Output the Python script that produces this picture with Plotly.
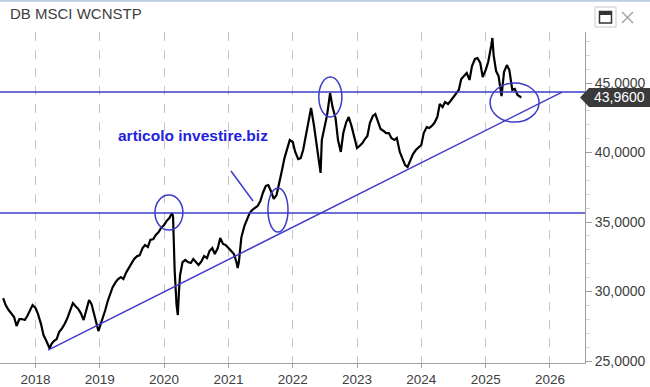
import plotly.graph_objects as go

# ---------------- data ----------------
dates = [
    "2017-07-01","2017-07-15","2017-08-01","2017-08-15","2017-09-01","2017-09-15","2017-10-01","2017-10-15",
    "2017-11-01","2017-11-15","2017-12-01","2017-12-15",
    "2018-01-01","2018-01-15","2018-02-01","2018-02-15","2018-03-01","2018-03-15","2018-03-22","2018-04-01","2018-04-15",
    "2018-05-01","2018-05-15","2018-06-01","2018-06-15","2018-07-01","2018-07-15","2018-08-01","2018-08-15",
    "2018-09-01","2018-09-15","2018-10-01","2018-10-15","2018-11-01","2018-11-15","2018-12-01","2018-12-15","2018-12-24",
    "2019-01-01","2019-01-15","2019-02-01","2019-02-15","2019-03-01","2019-03-15","2019-04-01","2019-04-15",
    "2019-05-01","2019-05-15","2019-06-01","2019-06-15","2019-07-01","2019-07-15","2019-08-01","2019-08-15",
    "2019-09-01","2019-09-15","2019-10-01","2019-10-15","2019-11-01","2019-11-15","2019-12-01","2019-12-15",
    "2020-01-01","2020-01-15","2020-02-01","2020-02-15","2020-02-21","2020-03-01","2020-03-12","2020-03-19","2020-03-26",
    "2020-04-01","2020-04-15","2020-05-01","2020-05-15","2020-06-01","2020-06-15","2020-07-01","2020-07-15",
    "2020-08-01","2020-08-15","2020-09-01","2020-09-15","2020-10-01","2020-10-15","2020-11-01","2020-11-15",
    "2020-12-01","2020-12-15",
    "2021-01-01","2021-01-15","2021-02-01","2021-02-15","2021-02-22","2021-03-01","2021-03-15","2021-04-01","2021-04-15",
    "2021-05-01","2021-05-15","2021-06-01","2021-06-15","2021-07-01","2021-07-15","2021-08-01","2021-08-15",
    "2021-09-01","2021-09-15","2021-10-01","2021-10-15","2021-11-01","2021-11-15","2021-12-01","2021-12-15",
    "2022-01-01","2022-01-15","2022-02-01","2022-02-15","2022-03-01","2022-03-15","2022-04-01","2022-04-15",
    "2022-05-01","2022-05-15","2022-06-01","2022-06-08","2022-06-15","2022-07-01","2022-07-15","2022-08-01","2022-08-15",
    "2022-09-01","2022-09-15","2022-10-01","2022-10-15","2022-11-01","2022-11-15","2022-12-01","2022-12-15",
    "2023-01-01","2023-01-15","2023-02-01","2023-02-15","2023-03-01","2023-03-15","2023-04-01","2023-04-15",
    "2023-05-01","2023-05-15","2023-06-01","2023-06-15","2023-07-01","2023-07-15","2023-08-01","2023-08-15",
    "2023-09-01","2023-09-15","2023-10-01","2023-10-15","2023-11-01","2023-11-15","2023-12-01","2023-12-15",
    "2024-01-01","2024-01-15","2024-02-01","2024-02-15","2024-03-01","2024-03-15","2024-04-01","2024-04-15",
    "2024-05-01","2024-05-15","2024-06-01","2024-06-15","2024-07-01","2024-07-15","2024-08-01","2024-08-15",
    "2024-09-01","2024-09-15","2024-10-01","2024-10-15","2024-11-01","2024-11-15","2024-12-01","2024-12-15",
    "2025-01-01","2025-01-15","2025-02-01","2025-02-08","2025-02-15","2025-03-01","2025-03-15","2025-04-01",
    "2025-04-08","2025-04-15","2025-05-01","2025-05-15","2025-06-01","2025-06-15","2025-07-01","2025-07-15","2025-07-22",
]
values = [
    29.53, 29.03, 28.67, 28.45, 28.17, 27.52, 28.02, 28.02, 27.95, 28.24, 28.67, 29.03,
    28.81, 28.38, 27.66, 26.87, 26.51, 26.10, 25.90, 26.22, 26.44, 26.58, 27.09, 27.37, 27.66, 28.10, 28.60,
    29.17, 28.96, 28.74, 28.45, 27.95, 28.60, 29.39, 29.10, 28.31, 27.52, 27.16,
    27.45, 27.95, 28.67, 29.32, 29.75, 30.32, 30.68, 30.90, 31.04, 30.90, 31.40, 31.69, 32.05, 32.34, 32.55,
    32.60, 33.13, 33.35, 33.20, 33.71, 33.78, 34.07, 34.28, 34.57,
    34.79, 35.07, 35.30, 35.65, 35.40, 31.55, 29.03, 28.31, 30.11, 31.19, 32.12, 32.27, 32.12, 32.05, 32.34,
    32.12, 31.91, 32.19, 32.55, 32.41, 32.91, 33.13, 32.70, 33.13, 33.85, 33.42, 33.35,
    33.13, 32.91, 32.70, 32.12, 31.69, 32.12, 33.90, 34.70, 35.14, 35.65, 35.86, 36.00, 36.15, 36.50, 37.09,
    37.60, 37.66, 37.16, 36.66, 36.94, 37.88, 38.74, 39.60, 40.32, 40.90,
    40.76, 40.04, 39.53, 39.60, 40.18, 41.19, 42.34, 43.20, 41.98, 40.68, 39.10, 38.53, 40.90, 41.90, 42.70,
    44.28, 43.27, 42.48, 40.90, 40.04, 41.40, 42.19, 42.55, 41.90, 41.26,
    40.32, 40.47, 40.68, 40.97, 41.19, 42.12, 42.63, 42.77, 42.12, 41.69, 41.55, 41.40, 41.40, 41.04, 40.90,
    41.04, 40.04, 39.53, 39.10, 38.96, 39.46, 39.89, 40.18, 40.32,
    40.54, 41.40, 41.83, 41.76, 41.91, 42.12, 42.55, 43.49, 43.27, 43.63, 43.49, 43.71, 43.99, 44.21, 44.50,
    45.29, 45.50, 45.72, 45.22, 46.22, 46.73, 46.80, 46.44, 45.43,
    45.94, 46.51, 47.66, 48.24, 47.01, 45.86, 45.50, 44.06, 44.93, 45.79, 46.29, 45.94, 44.50, 44.57, 44.14,
    43.99, 43.96,
]

title_text = "DB MSCI WCNSTP"
year_ticks = ["2018", "2019", "2020", "2021", "2022", "2023", "2024", "2025", "2026"]
y_ticks = [25, 30, 35, 40, 45]

# drawn analysis objects
resistance_level = 44.35
support_level = 35.65
trend_start = ("2018-03-13", 25.79)
trend_end = ("2026-03-11", 44.35)
ellipses = [  # (x0, x1, y0, y1)
    ("2019-11-10", "2020-04-17", 34.42, 36.94),
    ("2021-08-13", "2021-12-05", 34.28, 37.45),
    ("2022-05-29", "2022-10-07", 42.55, 45.43),
    ("2025-01-26", "2025-10-31", 42.19, 45.00),
]
note_text = "articolo investire.biz"

BLUE = "#3c3cc8"
TXT = "#404040"
PW, PH, PB = 585.0, 331.0, 363.0  # plot width/height/bottom in px
Y_RANGE = [24.86, 48.67]


def px(x):
    return x / PW


def py(y):
    return (PB - y) / PH


fig = go.Figure()
fig.add_trace(go.Scatter(x=dates, y=values, mode="lines",
                         line=dict(color="#000000", width=2.2), hoverinfo="skip"))

shapes = []
for lvl in (resistance_level, support_level):
    shapes.append(dict(type="line", xref="paper", yref="y", x0=0, x1=1, y0=lvl, y1=lvl,
                       line=dict(color=BLUE, width=1.5)))
shapes.append(dict(type="line", xref="x", yref="y", x0=trend_start[0], y0=trend_start[1],
                   x1=trend_end[0], y1=trend_end[1], line=dict(color=BLUE, width=1.5)))
for x0, x1, y0, y1 in ellipses:
    shapes.append(dict(type="circle", xref="x", yref="y", x0=x0, x1=x1, y0=y0, y1=y1,
                       line=dict(color=BLUE, width=1.5)))
# pointer line from note
shapes.append(dict(type="line", xref="paper", yref="paper", x0=px(231), y0=py(171),
                   x1=px(253), y1=py(201), line=dict(color=BLUE, width=1.5)))

# last price label (arrow box)
last = values[-1]
half = 9.5 / (PH / (Y_RANGE[1] - Y_RANGE[0]))
shapes.append(dict(type="path", xref="paper", yref="y", layer="above",
                   path=(f"M {px(580)},{last} L {px(589)},{last + half} L {px(650)},{last + half} "
                         f"L {px(650)},{last - half} L {px(589)},{last - half} Z"),
                   fillcolor="#3a3a3a", line=dict(width=0)))

# top window border
shapes.append(dict(type="line", xref="paper", yref="paper", x0=0, x1=px(650), y0=py(0.8), y1=py(0.8),
                   line=dict(color="#b9cde5", width=2)))
# window icons
shapes.append(dict(type="rect", xref="paper", yref="paper", x0=px(595), x1=px(616), y0=py(27), y1=py(7),
                   line=dict(color="#c8c8c8", width=1)))
shapes.append(dict(type="rect", xref="paper", yref="paper", x0=px(599.5), x1=px(611.5), y0=py(23), y1=py(11.5),
                   line=dict(color="#333333", width=1.5)))
shapes.append(dict(type="rect", xref="paper", yref="paper", x0=px(599.5), x1=px(611.5), y0=py(14.5), y1=py(11.5),
                   fillcolor="#333333", line=dict(color="#333333", width=1)))
shapes.append(dict(type="line", xref="paper", yref="paper", x0=px(622), x1=px(633), y0=py(12), y1=py(23),
                   line=dict(color="#a8a8a8", width=1.6)))
shapes.append(dict(type="line", xref="paper", yref="paper", x0=px(622), x1=px(633), y0=py(23), y1=py(12),
                   line=dict(color="#a8a8a8", width=1.6)))

annotations = [
    dict(xref="paper", yref="paper", x=px(8), y=py(13.5), xanchor="left", yanchor="middle",
         text=title_text, showarrow=False, font=dict(family="Arial", size=15, color=TXT)),
    dict(xref="paper", yref="paper", x=px(116), y=py(135), xanchor="left", yanchor="middle",
         text=note_text, showarrow=False,
         font=dict(family="Arial", size=15.5, color="#2222dd", weight="bold")),
    dict(xref="paper", yref="y", x=px(619), y=last, xanchor="center", yanchor="middle",
         text=f"{last:.4f}".replace(".", ","), showarrow=False,
         font=dict(family="Arial", size=14, color="#ffffff")),
]

fig.update_layout(
    width=650, height=387,
    margin=dict(l=0, r=65, t=32, b=24, autoexpand=False),
    paper_bgcolor="white", plot_bgcolor="white",
    showlegend=False,
    shapes=shapes,
    annotations=annotations,
    xaxis=dict(
        type="date",
        range=["2017-06-13", "2026-07-19"],
        tickvals=[f"{y}-01-01" for y in year_ticks],
        ticktext=year_ticks,
        showgrid=True, gridcolor="#c4c4c4", griddash="dash", gridwidth=1,
        ticks="outside", ticklen=4, tickcolor="#a0a0a0",
        showline=True, linecolor="#a0a0a0", linewidth=1,
        tickfont=dict(family="Arial", size=13.5, color=TXT),
        zeroline=False, fixedrange=True, automargin=False,
    ),
    yaxis=dict(
        side="right",
        range=Y_RANGE,
        tickvals=y_ticks,
        ticktext=[f"{v:.4f}".replace(".", ",") for v in y_ticks],
        showgrid=False, zeroline=False,
        ticks="outside", ticklen=6, tickcolor="#a0a0a0",
        minor=dict(dtick=1, ticks="outside", ticklen=4, tickcolor="#d4d4d4"),
        showline=True, linecolor="#a0a0a0", linewidth=1,
        tickfont=dict(family="Arial", size=14, color=TXT),
        fixedrange=True, automargin=False,
    ),
)

fig.write_html("out.html", config={"displayModeBar": False},
               post_script="document.body.style.margin='0';document.body.style.overflow='hidden';")
